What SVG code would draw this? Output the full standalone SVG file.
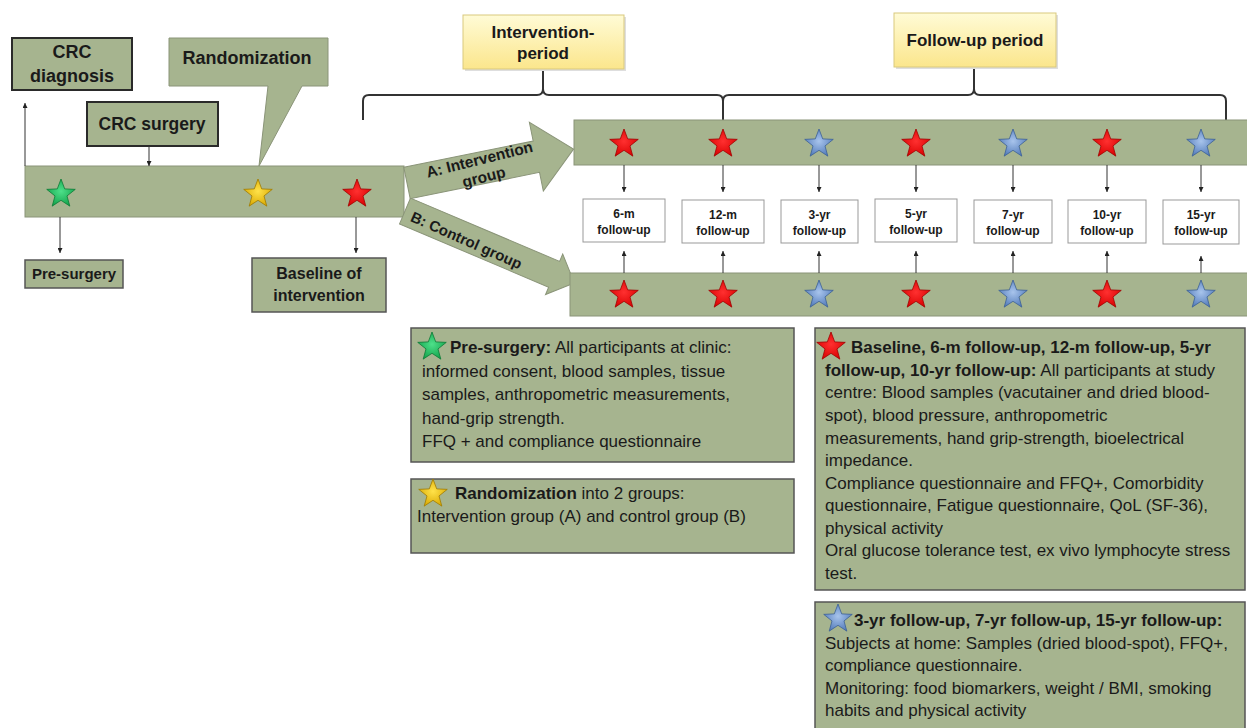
<svg xmlns="http://www.w3.org/2000/svg" width="1247" height="728" viewBox="0 0 1247 728">
<style>
text{font-family:"Liberation Sans",Arial,sans-serif;fill:#1a1a1a}
.b{font-weight:bold}
.gbox{fill:#a6b48f;stroke:#555;stroke-width:1.5}
.gbar{fill:#a6b48f;stroke:#8a9478;stroke-width:1}
.tbox{fill:#a6b48f;stroke:#555;stroke-width:1.5}
.dark{fill:#a6b48f;stroke:#2a2a2a;stroke-width:2}
.ybox{fill:url(#gYel);stroke:#d9c97e;stroke-width:1}
.fbox{fill:#fff;stroke:#999;stroke-width:1}
.ln{stroke:#333;stroke-width:1;fill:none}
.brace{stroke:#333;stroke-width:2;fill:none}
.body{font-size:17px}
.fu{font-size:12px;font-weight:bold;text-anchor:middle}
</style>
<defs>
<marker id="ah" viewBox="0 0 6 6" refX="6" refY="3" markerWidth="5" markerHeight="5" orient="auto" markerUnits="userSpaceOnUse"><path d="M0,0 L6,3 L0,6 Z" fill="#222"/></marker>
<path id="star" d="M0,-15 L3.7,-5.1 L14.27,-4.64 L5.99,1.95 L8.82,12.14 L0,6.3 L-8.82,12.14 L-5.99,1.95 L-14.27,-4.64 L-3.7,-5.1 Z"/>
<linearGradient id="gYel" x1="0" y1="0" x2="0" y2="1"><stop offset="0" stop-color="#fffbd6"/><stop offset="1" stop-color="#fbe68c"/></linearGradient>
<radialGradient id="sRed" cx="0.5" cy="0.45" r="0.6"><stop offset="0" stop-color="#ff3030"/><stop offset="1" stop-color="#d80000"/></radialGradient>
<radialGradient id="sGreen" cx="0.5" cy="0.45" r="0.6"><stop offset="0" stop-color="#4ee08a"/><stop offset="1" stop-color="#10a048"/></radialGradient>
<radialGradient id="sYel" cx="0.5" cy="0.45" r="0.6"><stop offset="0" stop-color="#ffe24a"/><stop offset="1" stop-color="#d9a800"/></radialGradient>
<radialGradient id="sBlue" cx="0.5" cy="0.45" r="0.6"><stop offset="0" stop-color="#a8c4ec"/><stop offset="1" stop-color="#4f78b8"/></radialGradient>
</defs>

<g id="braces">
<path class="brace" d="M363,120 L363,101 Q363,95 369,95 L537,95 Q543,95 543,89 L543,70 M543,89 Q543,95 549,95 L717,95 Q723,95 723,101 L723,121"/>
<path class="brace" d="M723,101 Q723,95 729,95 L968,95 Q974,95 974,89 L974,68 M974,89 Q974,95 980,95 L1220,95 Q1226,95 1226,101 L1226,122"/>
</g>

<g id="intervention-period">
<rect x="465" y="17" width="161" height="54" fill="#dedede"/>
<rect class="ybox" x="463" y="15" width="161" height="54"/>
<text class="b" x="543" y="38" font-size="17" text-anchor="middle">Intervention-</text>
<text class="b" x="543" y="59" font-size="17" text-anchor="middle">period</text>
</g>
<g id="followup-period">
<rect x="896" y="15" width="162" height="54" fill="#dedede"/>
<rect class="ybox" x="894" y="13" width="162" height="54"/>
<text class="b" x="975" y="46" font-size="17" text-anchor="middle">Follow-up period</text>
</g>

<g id="crc-diagnosis">
<rect class="dark" x="12" y="38" width="120" height="52"/>
<text class="b" x="72" y="58" font-size="18" text-anchor="middle">CRC</text>
<text class="b" x="72" y="82" font-size="18" text-anchor="middle">diagnosis</text>
</g>
<g id="crc-surgery">
<rect class="dark" x="87" y="102" width="131" height="44"/>
<text class="b" x="152" y="130" font-size="17.5" text-anchor="middle">CRC surgery</text>
</g>
<g id="randomization">
<path fill="#a6b48f" stroke="#8a9478" stroke-width="1" d="M169,38 L328,38 L328,86 L302,86 L259,166 L268,86 L169,86 Z"/>
<text class="b" x="247" y="64" font-size="18" text-anchor="middle">Randomization</text>
</g>

<g id="timeline">
<rect class="gbar" x="25" y="166" width="379" height="51"/>
<use href="#star" x="61" y="194" fill="url(#sGreen)" stroke="#0b7a35" stroke-width="0.8"/>
<use href="#star" x="258" y="194" fill="url(#sYel)" stroke="#a07a00" stroke-width="0.8"/>
<use href="#star" x="357" y="194" fill="url(#sRed)" stroke="#a00000" stroke-width="0.8"/>
</g>

<g id="arrow-b">
<polygon class="gbar" points="0,-14 162,-14 162,-22 184,0 162,22 162,14 0,14" transform="translate(405,211) rotate(23)"/>
<text class="b" font-size="15" x="68" y="7" text-anchor="middle" transform="translate(405,211) rotate(24)">B: Control group</text>
</g>
<g id="arrow-a">
<polygon class="gbar" points="0,-16 132,-16 132,-35 170,0 132,35 132,16 0,16" transform="translate(407,183) rotate(-11.5)"/>
<g transform="translate(407,183) rotate(-14)">
<text class="b" font-size="15.5" x="76" y="0" text-anchor="middle">A: Intervention</text>
<text class="b" font-size="15.5" x="76" y="18" text-anchor="middle">group</text>
</g>
</g>

<g id="pre-surgery-label">
<rect class="gbox" x="25" y="260" width="98" height="28"/>
<text class="b" x="74" y="279" font-size="15" text-anchor="middle">Pre-surgery</text>
</g>
<g id="baseline-label">
<rect class="gbox" x="252" y="258" width="134" height="54"/>
<text class="b" x="319" y="279" font-size="16" text-anchor="middle">Baseline of</text>
<text class="b" x="319" y="301" font-size="16" text-anchor="middle">intervention</text>
</g>

<g id="group-a-bar">
<rect class="gbar" x="574" y="120" width="680" height="45"/>
<use href="#star" x="624" y="144" fill="url(#sRed)" stroke="#a00000" stroke-width="0.8"/>
<use href="#star" x="723" y="144" fill="url(#sRed)" stroke="#a00000" stroke-width="0.8"/>
<use href="#star" x="819" y="144" fill="url(#sBlue)" stroke="#3b5f95" stroke-width="0.8"/>
<use href="#star" x="916" y="144" fill="url(#sRed)" stroke="#a00000" stroke-width="0.8"/>
<use href="#star" x="1013" y="144" fill="url(#sBlue)" stroke="#3b5f95" stroke-width="0.8"/>
<use href="#star" x="1107" y="144" fill="url(#sRed)" stroke="#a00000" stroke-width="0.8"/>
<use href="#star" x="1201" y="144" fill="url(#sBlue)" stroke="#3b5f95" stroke-width="0.8"/>
</g>
<g id="group-b-bar">
<rect class="gbar" x="570" y="273" width="684" height="43"/>
<use href="#star" x="624" y="295" fill="url(#sRed)" stroke="#a00000" stroke-width="0.8"/>
<use href="#star" x="723" y="295" fill="url(#sRed)" stroke="#a00000" stroke-width="0.8"/>
<use href="#star" x="819" y="295" fill="url(#sBlue)" stroke="#3b5f95" stroke-width="0.8"/>
<use href="#star" x="916" y="295" fill="url(#sRed)" stroke="#a00000" stroke-width="0.8"/>
<use href="#star" x="1013" y="295" fill="url(#sBlue)" stroke="#3b5f95" stroke-width="0.8"/>
<use href="#star" x="1107" y="295" fill="url(#sRed)" stroke="#a00000" stroke-width="0.8"/>
<use href="#star" x="1201" y="295" fill="url(#sBlue)" stroke="#3b5f95" stroke-width="0.8"/>
</g>

<g id="fu-6m"><rect class="fbox" x="583" y="199" width="82" height="43"/><text class="fu" x="624" y="218">6-m</text><text class="fu" x="624" y="234">follow-up</text></g>
<g id="fu-12m"><rect class="fbox" x="682" y="200" width="82" height="43"/><text class="fu" x="723" y="219">12-m</text><text class="fu" x="723" y="235">follow-up</text></g>
<g id="fu-3yr"><rect class="fbox" x="781" y="200" width="77" height="43"/><text class="fu" x="819.5" y="219">3-yr</text><text class="fu" x="819.5" y="235">follow-up</text></g>
<g id="fu-5yr"><rect class="fbox" x="875" y="199" width="82" height="43"/><text class="fu" x="916" y="218">5-yr</text><text class="fu" x="916" y="234">follow-up</text></g>
<g id="fu-7yr"><rect class="fbox" x="974" y="200" width="78" height="43"/><text class="fu" x="1013" y="219">7-yr</text><text class="fu" x="1013" y="235">follow-up</text></g>
<g id="fu-10yr"><rect class="fbox" x="1068" y="200" width="78" height="43"/><text class="fu" x="1107" y="219">10-yr</text><text class="fu" x="1107" y="235">follow-up</text></g>
<g id="fu-15yr"><rect class="fbox" x="1163" y="200" width="76" height="44"/><text class="fu" x="1201" y="219">15-yr</text><text class="fu" x="1201" y="235">follow-up</text></g>

<g id="connectors">
<line class="ln" x1="25" y1="166" x2="25" y2="103" marker-end="url(#ah)"/>
<line class="ln" x1="149" y1="146" x2="149" y2="166" marker-end="url(#ah)"/>
<line class="ln" x1="60" y1="217" x2="60" y2="253" marker-end="url(#ah)"/>
<line class="ln" x1="356" y1="217" x2="356" y2="253" marker-end="url(#ah)"/>
<line class="ln" x1="624" y1="165" x2="624" y2="192" marker-end="url(#ah)"/>
<line class="ln" x1="723" y1="165" x2="723" y2="192" marker-end="url(#ah)"/>
<line class="ln" x1="819" y1="165" x2="819" y2="192" marker-end="url(#ah)"/>
<line class="ln" x1="916" y1="165" x2="916" y2="192" marker-end="url(#ah)"/>
<line class="ln" x1="1013" y1="165" x2="1013" y2="192" marker-end="url(#ah)"/>
<line class="ln" x1="1107" y1="165" x2="1107" y2="192" marker-end="url(#ah)"/>
<line class="ln" x1="1201" y1="165" x2="1201" y2="192" marker-end="url(#ah)"/>
<line class="ln" x1="624" y1="273" x2="624" y2="251" marker-end="url(#ah)"/>
<line class="ln" x1="723" y1="273" x2="723" y2="251" marker-end="url(#ah)"/>
<line class="ln" x1="819" y1="273" x2="819" y2="251" marker-end="url(#ah)"/>
<line class="ln" x1="916" y1="273" x2="916" y2="251" marker-end="url(#ah)"/>
<line class="ln" x1="1013" y1="273" x2="1013" y2="251" marker-end="url(#ah)"/>
<line class="ln" x1="1107" y1="273" x2="1107" y2="251" marker-end="url(#ah)"/>
<line class="ln" x1="1201" y1="273" x2="1201" y2="256" marker-end="url(#ah)"/>
</g>

<g id="legend-pre-surgery">
<rect class="tbox" x="411" y="328" width="383" height="134"/>
<use href="#star" x="432" y="347" fill="url(#sGreen)" stroke="#0b7a35" stroke-width="0.8"/>
<text class="body" x="450" y="353"><tspan class="b">Pre-surgery:</tspan> All participants at clinic:</text>
<text class="body" x="422" y="377">informed consent, blood samples, tissue</text>
<text class="body" x="422" y="400">samples, anthropometric measurements,</text>
<text class="body" x="422" y="424">hand-grip strength.</text>
<text class="body" x="422" y="447">FFQ + and compliance questionnaire</text>
</g>
<g id="legend-randomization">
<rect class="tbox" x="411" y="479" width="383" height="74"/>
<use href="#star" x="433" y="494" fill="url(#sYel)" stroke="#a07a00" stroke-width="0.8"/>
<text class="body" x="455" y="499"><tspan class="b">Randomization</tspan> into 2 groups:</text>
<text class="body" x="417" y="522">Intervention group (A) and control group (B)</text>
</g>
<g id="legend-red">
<rect class="tbox" x="815" y="328" width="430" height="262"/>
<use href="#star" x="831" y="347" fill="url(#sRed)" stroke="#a00000" stroke-width="0.8"/>
<text class="body b" x="851" y="353">Baseline, 6-m follow-up, 12-m follow-up, 5-yr</text>
<text class="body" x="825" y="376"><tspan class="b">follow-up, 10-yr follow-up:</tspan> All participants at study</text>
<text class="body" x="825" y="398">centre: Blood samples (vacutainer and dried blood-</text>
<text class="body" x="825" y="421">spot), blood pressure, anthropometric</text>
<text class="body" x="825" y="444">measurements, hand grip-strength, bioelectrical</text>
<text class="body" x="825" y="466">impedance.</text>
<text class="body" x="825" y="489">Compliance questionnaire and FFQ+, Comorbidity</text>
<text class="body" x="825" y="511">questionnaire, Fatigue questionnaire, QoL (SF-36),</text>
<text class="body" x="825" y="534">physical activity</text>
<text class="body" x="825" y="556">Oral glucose tolerance test, ex vivo lymphocyte stress</text>
<text class="body" x="825" y="579">test.</text>
</g>
<g id="legend-blue">
<rect class="tbox" x="815" y="602" width="430" height="140"/>
<use href="#star" x="838" y="619" fill="url(#sBlue)" stroke="#3b5f95" stroke-width="0.8"/>
<text class="body b" x="854" y="626">3-yr follow-up, 7-yr follow-up, 15-yr follow-up:</text>
<text class="body" x="825" y="649">Subjects at home: Samples (dried blood-spot), FFQ+,</text>
<text class="body" x="825" y="671">compliance questionnaire.</text>
<text class="body" x="825" y="694">Monitoring: food biomarkers, weight / BMI, smoking</text>
<text class="body" x="825" y="716">habits and physical activity</text>
</g>
</svg>
